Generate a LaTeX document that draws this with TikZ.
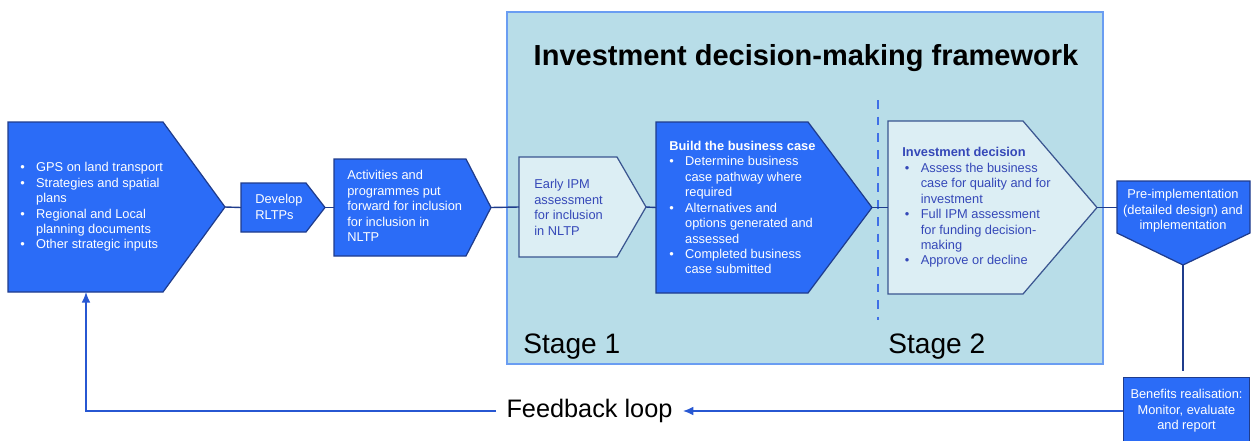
\documentclass[tikz,border=0pt]{standalone}
\usepackage{fontspec}
\setmainfont{Liberation Sans}
\usetikzlibrary{arrows.meta}

\definecolor{boxblue}{HTML}{2B6CF7}
\definecolor{navy}{HTML}{1F3C8C}
\definecolor{paleblue}{HTML}{DCEEF4}
\definecolor{slate}{HTML}{3A5590}
\definecolor{panelfill}{HTML}{B8DDE8}
\definecolor{panelline}{HTML}{6A9DF2}
\definecolor{dashblue}{HTML}{3F6FE6}
\definecolor{palefont}{HTML}{3548B8}
\definecolor{loopblue}{HTML}{2757D2}

\newcommand{\boxfont}{\fontsize{7.3}{8.8}\selectfont}
\newcommand{\headfont}{\fontsize{16.5}{20}\selectfont\bfseries}
\newcommand{\stagefont}{\fontsize{16}{19}\selectfont}
\newcommand{\loopfont}{\fontsize{14.4}{17}\selectfont}
\newcommand{\bul}{\makebox[9pt][l]{\textbullet}}
\newcommand{\cont}{\hspace*{9pt}}

\tikzset{
  darkbox/.style={fill=boxblue, draw=navy, line width=0.7pt},
  lightbox/.style={fill=paleblue, draw=slate, line width=0.7pt},
  link/.style={draw=navy, line width=0.8pt},
  loopline/.style={draw=loopblue, line width=0.9pt},
  boxtext/.style={align=left, inner sep=0pt, font=\boxfont, text=white},
  lighttext/.style={boxtext, text=palefont},
  stagetext/.style={anchor=base west, inner sep=0pt, font=\stagefont}
}

\begin{document}
\begin{tikzpicture}[x=0.02cm, y=-0.02cm]

\useasboundingbox (0,0) rectangle (1251,440);

% the framework panel
\draw[fill=panelfill, draw=panelline, line width=0.7pt] (507,12) rectangle (1103,364);
\node[font=\headfont] (title) at (806,58) {Investment decision-making framework};
\draw[dashblue, line width=0.8pt, dash pattern=on 5pt off 4.5pt] (878,100) -- (878,320);
\node[stagetext] (stage1) at (523,353) {Stage 1};
\node[stagetext] (stage2) at (888,353) {Stage 2};

% the arrow shaped boxes
\draw[darkbox] (8,122) -- (163,122) -- (225,207) coordinate (gps tip) -- (163,292) -- (8,292) -- cycle;
\coordinate (gps foot) at (86,292);
\draw[darkbox] (241,207.5) coordinate (rltp in) -- (241,183) -- (306,183) -- (325,207.5) coordinate (rltp tip) -- (306,232) -- (241,232) -- cycle;
\draw[darkbox] (334,207.5) coordinate (act in) -- (334,159) -- (466,159) -- (491,207.5) coordinate (act tip) -- (466,256) -- (334,256) -- cycle;
\draw[lightbox] (519,207) coordinate (early in) -- (519,157) -- (617,157) -- (646,207) coordinate (early tip) -- (617,257) -- (519,257) -- cycle;
\draw[darkbox] (656,207.5) coordinate (build in) -- (656,122) -- (808,122) -- (872,207.5) coordinate (build tip) -- (808,293) -- (656,293) -- cycle;
\draw[lightbox] (888,207.5) coordinate (invest in) -- (888,121) -- (1023,121) -- (1097,207.5) coordinate (invest tip) -- (1023,294) -- (888,294) -- cycle;
\draw[darkbox] (1117,207.5) coordinate (pre in) -- (1117,181) -- (1250,181) -- (1250,233) -- (1183,265) coordinate (pre tip) -- (1117,233) -- cycle;

% texts of the boxes
\node[boxtext, anchor=west] (gps) at (20,207) {\bul GPS on land transport\\
  \bul Strategies and spatial\\ \cont plans\\
  \bul Regional and Local\\ \cont planning documents\\
  \bul Other strategic inputs};
\node[boxtext, anchor=west] (rltp) at (255,207) {Develop\\ RLTPs};
\node[boxtext, anchor=west] (act) at (347,206) {Activities and\\ programmes put\\ forward for inclusion\\ for inclusion in\\ NLTP};
\node[lighttext, anchor=west] (early) at (534,207.5) {Early IPM\\ assessment\\ for inclusion\\ in NLTP};
\node[boxtext, anchor=west] (build) at (669,207.5) {\textbf{Build the business case}\\
  \bul Determine business\\ \cont case pathway where\\ \cont required\\
  \bul Alternatives and\\ \cont options generated and\\ \cont assessed\\
  \bul Completed business\\ \cont case submitted};
\node[lighttext, anchor=west] (invest) at (902,207.5) {\textbf{Investment decision}\\
  \hspace*{1.5pt}\bul Assess the business\\ \hspace*{1.5pt}\cont case for quality and for\\ \hspace*{1.5pt}\cont investment\\
  \hspace*{1.5pt}\bul Full IPM assessment\\ \hspace*{1.5pt}\cont for funding decision-\\ \hspace*{1.5pt}\cont making\\
  \hspace*{1.5pt}\bul Approve or decline};
\node[boxtext, align=center] (pre) at (1183,211) {Pre-implementation\\ (detailed design) and\\ implementation};
\node[boxtext, align=center, fill=boxblue, draw=navy, line width=0.7pt, minimum width=72pt, minimum height=38pt] (benefits) at (1186.5,411) {Benefits realisation:\\ Monitor, evaluate\\ and report};

% the links between the boxes
\draw[link] (gps tip) -- (rltp in);
\draw[link] (rltp tip) -- (act in);
\draw[link] (act tip) -- (early in);
\draw[link] (early tip) -- (build in);
\draw[link] (build tip) -- (invest in);
\draw[link] (invest tip) -- (pre in);
\draw[link, shorten >=3.4pt] (pre tip) -- (benefits.north -| pre tip);

% the feedback loop
\node[font=\loopfont, inner xsep=5.7pt, inner ysep=0pt] (loop) at (589.5,411) {Feedback loop};
\draw[loopline, -{Latex[length=6pt,width=5pt]}] (benefits.west) -- (loop.east);
\draw[loopline, -{Latex[length=6pt,width=5pt]}] (loop.west) -| (gps foot);

\end{tikzpicture}
\end{document}
